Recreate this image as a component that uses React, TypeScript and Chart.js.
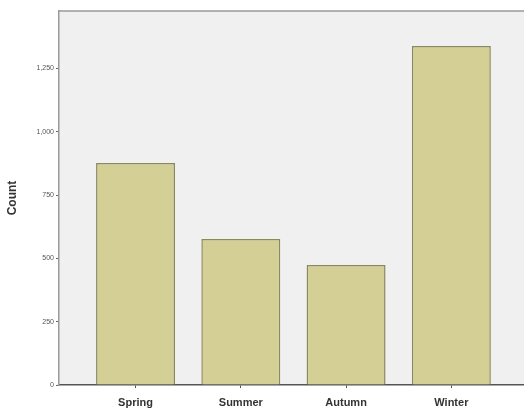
import React, { useEffect, useRef } from "react";
import { Chart, registerables } from "chart.js";

Chart.register(...registerables);

const categories = ["Spring", "Summer", "Autumn", "Winter"];
const counts = [877, 577, 474, 1339];
const yTicks = [0, 250, 500, 750, 1000, 1250];

const bgPlugin = {
  id: "plotBg",
  beforeDraw(chart: any) {
    const { ctx, chartArea } = chart;
    ctx.save();
    ctx.fillStyle = "#f0f0f0";
    ctx.fillRect(chartArea.left, chartArea.top, chartArea.right - chartArea.left, chartArea.bottom - chartArea.top);
    ctx.strokeStyle = "#9a9a9a";
    ctx.lineWidth = 1.5;
    ctx.beginPath();
    ctx.moveTo(chartArea.left, chartArea.top);
    ctx.lineTo(chartArea.right, chartArea.top);
    ctx.stroke();
    ctx.restore();
  },
};

export default function App() {
  const ref = useRef<HTMLCanvasElement>(null);
  useEffect(() => {
    if (!ref.current) return;
    const chart = new Chart(ref.current, {
      type: "bar",
      data: {
        datasets: [
          {
            data: counts.map((v, i) => ({ x: i, y: v })),
            backgroundColor: "#d4cf95",
            borderColor: "#8a895c",
            borderWidth: 1.5,
            barPercentage: 0.75,
            categoryPercentage: 1,
          },
        ],
      },
      options: {
        animation: false,
        responsive: false,
        maintainAspectRatio: false,
        layout: { padding: { top: 11, right: 0, left: 0, bottom: 0 } },
        plugins: { legend: { display: false }, tooltip: { enabled: false } },
        scales: {
          x: {
            type: "linear",
            offset: false,
            min: -0.727,
            max: 3.69,
            afterBuildTicks: (s: any) => {
              s.ticks = categories.map((_, i) => ({ value: i }));
            },
            afterFit: (s: any) => {
              s.height = 29;
            },
            ticks: {
              callback: (v: any) => categories[Math.round(Number(v))] ?? "",
              font: { family: "Liberation Sans", size: 11, weight: "bold" },
              color: "#333",
              padding: 8,
              maxRotation: 0,
              autoSkip: false,
            },
            grid: { offset: false, drawOnChartArea: false, drawTicks: true, tickLength: 3, color: "#555" },
            border: { display: true, color: "#555", width: 1.5 },
          },
          y: {
            type: "linear",
            min: 0,
            max: 1477,
            afterBuildTicks: (s: any) => {
              s.ticks = yTicks.map((v) => ({ value: v }));
            },
            afterFit: (s: any) => {
              s.width = 59;
            },
            ticks: {
              callback: (v: any) => Number(v).toLocaleString("en-US"),
              font: { family: "Liberation Sans", size: 7 },
              color: "#555",
              padding: 2,
            },
            grid: { drawOnChartArea: false, drawTicks: true, tickLength: 3, color: "#666" },
            border: { display: true, color: "#9a9a9a", width: 1.5 },
            title: {
              display: true,
              text: "Count",
              font: { family: "Liberation Sans", size: 12, weight: "bold" },
              color: "#333",
              padding: { top: 5, bottom: 4 },
            },
          },
        },
      },
      plugins: [bgPlugin],
    });
    return () => chart.destroy();
  }, []);
  return (
    <div style={{ position: "fixed", left: 0, top: 0, width: 524, height: 414, background: "#fff" }}>
      <canvas ref={ref} width={524} height={414} style={{ width: 524, height: 414, display: "block" }} />
    </div>
  );
}
